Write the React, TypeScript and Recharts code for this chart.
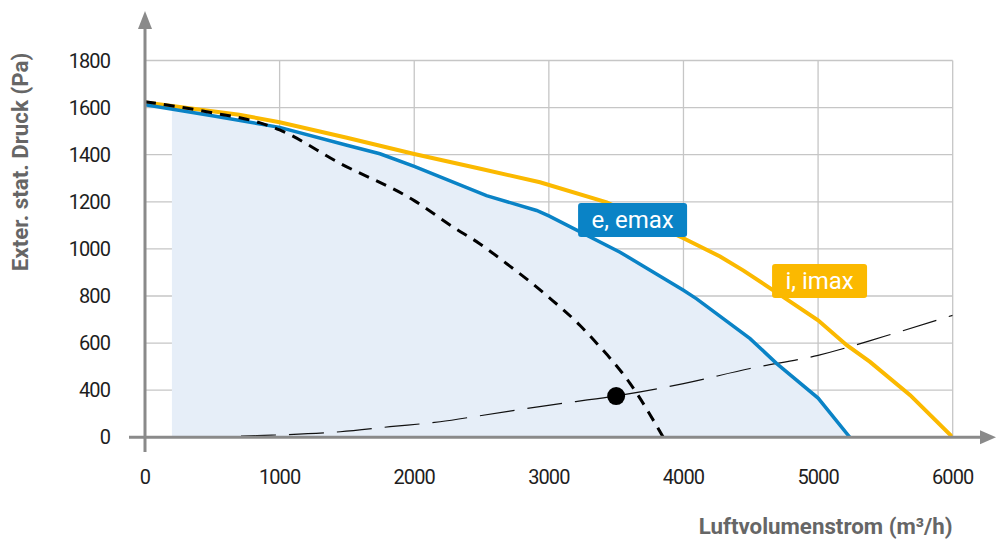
import React from 'react';
import { ComposedChart, Line, Area, XAxis, YAxis, CartesianGrid, ReferenceDot } from 'recharts';

// ---- data ----
const flowTicks = [0, 1000, 2000, 3000, 4000, 5000, 6000];
const pressureTicks = [0, 400, 600, 800, 1000, 1200, 1400, 1600, 1800];

// e, emax curve
const eFlow = [0, 500, 1000, 1500, 1745, 2000, 2537, 2909, 3000, 3529, 4000, 4098, 4495, 4693, 5000, 5236];
const ePressure = [1612, 1565, 1516, 1440, 1404, 1350, 1226, 1163, 1140, 986, 824, 788, 619, 513, 333, 0];

// i, imax curve
const iFlow = [0, 700, 1000, 1500, 2000, 2500, 2934, 3430, 4000, 4272, 4446, 4743, 5000, 5213, 5386, 5684, 6000];
const iPressure = [1622, 1570, 1538, 1472, 1403, 1339, 1283, 1198, 1045, 968, 908, 795, 697, 591, 520, 358, 0];

// thick dashed curve
const mFlow = [0, 500, 855, 1000, 1450, 2000, 2291, 2489, 2687, 2864, 2988, 3232, 3332, 3603, 3850];
const mPressure = [1625, 1578, 1535, 1505, 1363, 1205, 1092, 1021, 937, 859, 800, 675, 614, 429, 0];

// thin dashed system curve
const sFlow = [0, 500, 830, 1450, 1820, 2192, 2500, 3009, 3492, 4000, 4495, 5000, 5500, 6000];
const sPressure = [0, 3, 14, 47, 90, 132, 185, 274, 350, 428, 492, 548, 630, 718];

// shaded working range starts at this flow
const rangeStartFlow = 200;
const rangeStartPressure = 1593;

// operating point
const opFlow = [3500];
const opPressure = [350];

// curve tags
const tagText = ['e, emax', 'i, imax'];
const tagFlow = [3622, 5011];
const tagPressure = [1123, 864];

// ---- broken pressure axis: 0..400 shown as one 200-step ----
const brk = (v: number) => (v <= 400 ? v / 2 : v - 200);
const unbrk = (t: number) => (t <= 200 ? t * 2 : t + 200);

const toSeries = (qs: number[], ps: number[]) => qs.map((q, i) => ({ q, p: brk(ps[i]) }));

const eData = toSeries(eFlow, ePressure);
const iData = toSeries(iFlow, iPressure);
const mData = toSeries(mFlow, mPressure);
const sData = toSeries(sFlow, sPressure);
const fillData = [
  { q: rangeStartFlow, p: brk(rangeStartPressure) },
  ...eData.filter((d) => d.q > rangeStartFlow),
];
const opData = toSeries(opFlow, opPressure);

const BLUE = '#0a83c6';
const YELLOW = '#fbb900';
const GRID = '#c6c6c6';
const AXIS = '#8a8a8a';
const TITLE = '#666666';
const FONT = 'Roboto, "Noto Sans", sans-serif';

const W = 996;
const H = 540;
const margin = { top: 60.5, right: 43.3, bottom: 72.7, left: 85 };
const Y_AXIS_W = 60;
const X_AXIS_H = 30;
const plotLeft = margin.left + Y_AXIS_W;
const plotBottom = H - margin.bottom - X_AXIS_H;
const plotRight = W - margin.right;

const tagWidths = [109, 95];
const tagColors = [BLUE, YELLOW];

const makeTag = (idx: number) => (props: any) => {
  const { cx, cy } = props;
  const w = tagWidths[idx];
  return (
    <g>
      <rect x={cx - w / 2} y={cy - 17} width={w} height={34} rx={3} ry={3} fill={tagColors[idx]} />
      <text
        x={cx}
        y={cy + 8}
        textAnchor="middle"
        fill="#ffffff"
        fontSize={24}
        fontWeight={400}
        fontFamily={FONT}
      >
        {tagText[idx]}
      </text>
    </g>
  );
};

const tickStyle = { fontSize: 20, fill: '#1e1e1e', fontFamily: FONT, letterSpacing: -0.9 } as any;

export default function App() {
  return (
    <div style={{ position: 'absolute', left: 0, top: 0, width: W, height: H, background: '#fff' }}>
      <ComposedChart width={W} height={H} margin={margin}>
        <Area
          data={fillData}
          dataKey="p"
          type="linear"
          stroke="none"
          fill="#e6eef8"
          fillOpacity={1}
          baseValue={0}
          isAnimationActive={false}
        />
        <CartesianGrid stroke={GRID} strokeWidth={1.3} horizontal vertical />
        <XAxis
          dataKey="q"
          type="number"
          domain={[0, 6000]}
          ticks={flowTicks}
          axisLine={false}
          tickLine={false}
          tickMargin={26}
          height={X_AXIS_H}
          tick={tickStyle}
          allowDataOverflow
        />
        <YAxis
          dataKey="p"
          type="number"
          domain={[0, 1600]}
          ticks={pressureTicks.map(brk)}
          tickFormatter={(t: number) => String(unbrk(t))}
          axisLine={false}
          tickLine={false}
          tickMargin={29}
          width={Y_AXIS_W}
          tick={tickStyle}
          allowDataOverflow
        />
        <Line
          data={sData}
          dataKey="p"
          type="monotone"
          stroke="#111"
          strokeWidth={1.2}
          strokeDasharray="35 13"
          dot={false}
          isAnimationActive={false}
        />
        <Line
          data={iData}
          dataKey="p"
          type="linear"
          stroke={YELLOW}
          strokeWidth={4}
          dot={false}
          isAnimationActive={false}
        />
        <Line
          data={eData}
          dataKey="p"
          type="linear"
          stroke={BLUE}
          strokeWidth={3.5}
          dot={false}
          isAnimationActive={false}
        />
        <Line
          data={mData}
          dataKey="p"
          type="monotone"
          stroke="#000"
          strokeWidth={3}
          strokeDasharray="11 8"
          dot={false}
          isAnimationActive={false}
        />
        {opData.map((d, i) => (
          <ReferenceDot key={'op' + i} x={d.q} y={d.p} r={9} fill="#000" stroke="none" ifOverflow="visible" />
        ))}
        {tagText.map((t, i) => (
          <ReferenceDot
            key={t}
            x={tagFlow[i]}
            y={brk(tagPressure[i])}
            r={1}
            ifOverflow="visible"
            shape={makeTag(i)}
          />
        ))}
      </ComposedChart>
      <svg
        width={W}
        height={H}
        style={{ position: 'absolute', left: 0, top: 0, pointerEvents: 'none' }}
      >
        <line x1={plotLeft} y1={452} x2={plotLeft} y2={28} stroke={AXIS} strokeWidth={3} />
        <polygon points={`${plotLeft},11 ${plotLeft - 7},29 ${plotLeft + 7},29`} fill={AXIS} />
        <line x1={129} y1={plotBottom} x2={982} y2={plotBottom} stroke={AXIS} strokeWidth={3} />
        <polygon points={`996,${plotBottom} 980,${plotBottom - 7} 980,${plotBottom + 7}`} fill={AXIS} />
        <text
          x={plotRight}
          y={534}
          textAnchor="end"
          fill={TITLE}
          fontSize={22.3}
          fontWeight={700}
          fontFamily={FONT}
        >
          Luftvolumenstrom (m³/h)
        </text>
        <text
          x={28}
          y={162}
          transform="rotate(-90 28 162)"
          textAnchor="middle"
          fill={TITLE}
          fontSize={22.3}
          fontWeight={700}
          fontFamily={FONT}
        >
          Exter. stat. Druck (Pa)
        </text>
      </svg>
    </div>
  );
}
